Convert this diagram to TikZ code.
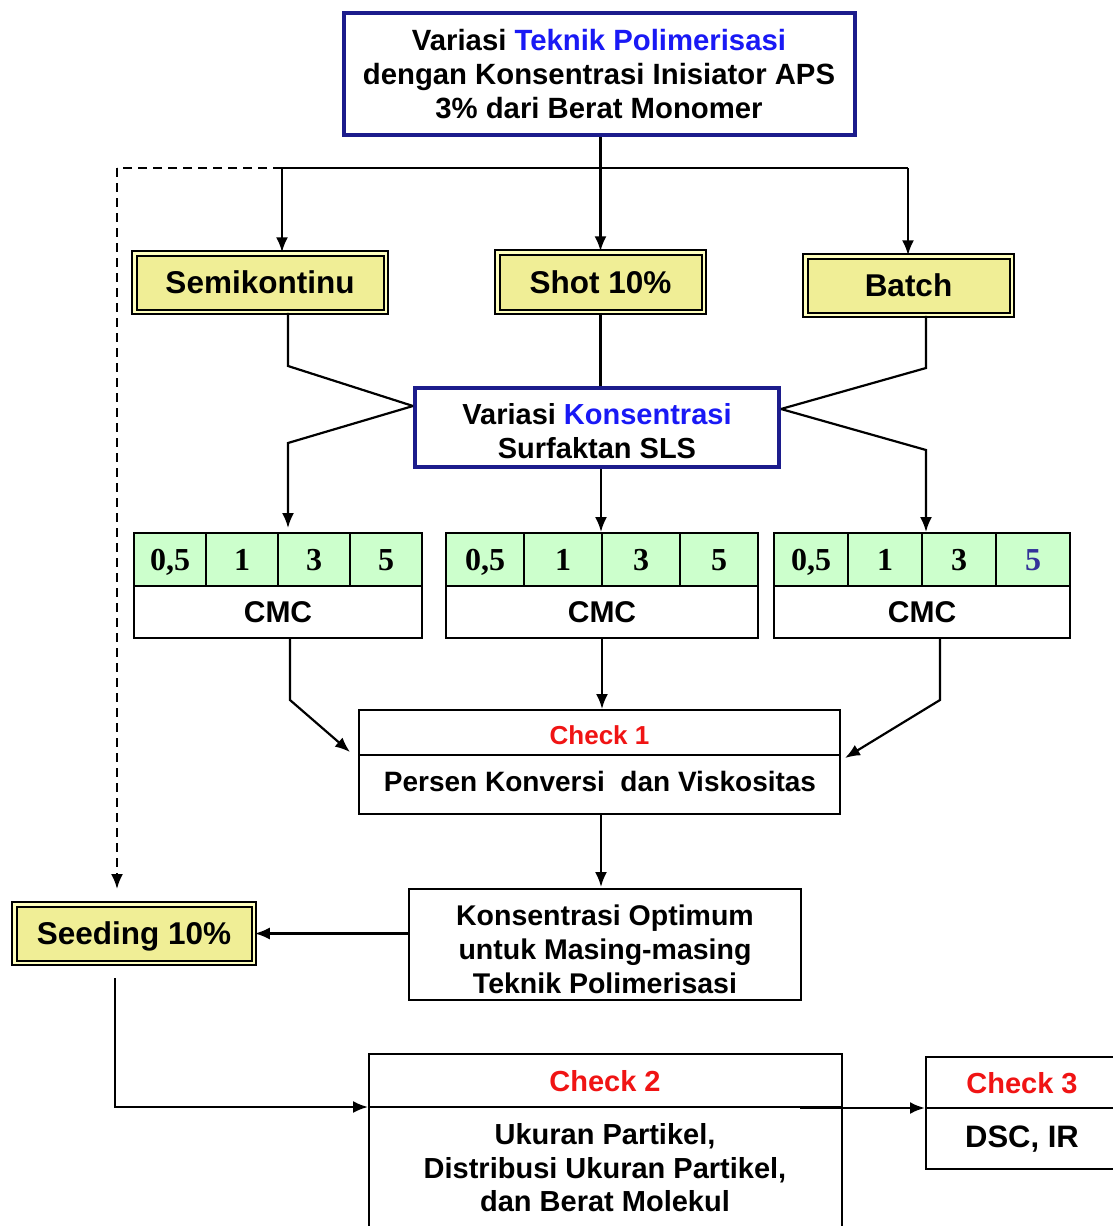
\documentclass[tikz,border=0pt]{standalone}
\usepackage{fontspec}
\setmainfont{Liberation Sans}
\newfontfamily\tnr{Liberation Serif}
\usetikzlibrary{arrows.meta}
\definecolor{navy}{RGB}{28,28,140}
\definecolor{tblue}{RGB}{25,25,245}
\definecolor{yfill}{RGB}{240,238,150}
\definecolor{ylight}{RGB}{255,255,190}
\definecolor{gfill}{RGB}{204,255,204}
\definecolor{rd}{RGB}{240,20,20}
\definecolor{five}{RGB}{51,51,153}
\begin{document}
\begin{tikzpicture}[x=1pt,y=-1pt,
 navybox/.style={draw=navy, line width=4pt, inner sep=0pt},
 ybox/.style={draw=black, line width=2pt, double=ylight, double distance=2.5pt, fill=yfill, inner sep=0pt, text height=22.5pt, text depth=0pt, font=\fontsize{31.5}{36}\selectfont\bfseries},
 wbox/.style={draw=black, line width=2pt, inner sep=0pt},
 cell/.style={draw=black, line width=2pt, fill=gfill, inner sep=0pt, minimum height=53pt, text height=21.5pt, text depth=0pt, font=\fontsize{32}{36}\selectfont\tnr\bfseries},
 cmc/.style={wbox, minimum height=52pt, font=\fontsize{30}{34}\selectfont\bfseries},
 txt/.style={align=center, font=\fontsize{29}{34}\selectfont\bfseries, inner sep=0pt},
 conn/.style={line width=2.2pt},
 arr/.style={conn, -{Latex[length=15pt,width=12pt]}},
 dashln/.style={dash pattern=on 9pt off 6pt},
]
\useasboundingbox (0,0) rectangle (1112,1226);
\fill[white] (0,0) rectangle (1112,1226);

% top box
\node[navybox, minimum width=511pt, minimum height=122pt] (top) at (599,74) {};
\node[txt, font=\fontsize{29.3}{34}\selectfont\bfseries] (toptxt) at (599,74) {Variasi \textcolor{tblue}{Teknik Polimerisasi}\\dengan Konsentrasi Inisiator APS\\3\% dari Berat Monomer};

% technique boxes
\node[ybox, minimum width=251.5pt, minimum height=58.5pt] (semi) at (260,282.5) {Semikontinu};
\node[ybox, minimum width=206.5pt, minimum height=59.5pt] (shot) at (600.5,282) {Shot 10\%};
\node[ybox, minimum width=206.5pt, minimum height=58.5pt] (batch) at (908.5,285.5) {Batch};

% konsentrasi box
\node[navybox, minimum width=364pt, minimum height=79pt] (konz) at (597,427.5) {};
\node[txt] (konztxt) at (597,431) {Variasi \textcolor{tblue}{Konsentrasi}\\Surfaktan SLS};

% tables
\foreach \v [count=\i] in {{0,5},1,3,5}
  \node[cell, minimum width=72pt] (ta\i) at ({134+72*(\i-0.5)},559.5) {\v};
\node[cmc, minimum width=288pt] (cmca) at (278,612) {CMC};
\foreach \v [count=\i] in {{0,5},1,3,5}
  \node[cell, minimum width=78pt] (tb\i) at ({446+78*(\i-0.5)},559.5) {\v};
\node[cmc, minimum width=312pt] (cmcb) at (602,612) {CMC};
\foreach \v [count=\i] in {{0,5},1,3}
  \node[cell, minimum width=74pt] (tc\i) at ({774+74*(\i-0.5)},559.5) {\v};
\node[cell, minimum width=74pt, text=five] (tc4) at (1033,559.5) {5};
\node[cmc, minimum width=296pt] (cmcc) at (922,612) {CMC};

% check 1
\node[wbox, minimum width=481pt, minimum height=104pt] (ch1) at (599.5,762) {};
\coordinate (d1) at (0,755);
\draw[line width=2.8pt] (ch1.west |- d1) -- (ch1.east |- d1);
\node[txt, font=\fontsize{26}{30}\selectfont\bfseries, text=rd] (ch1t) at (599.5,735) {Check 1};
\node[txt, font=\fontsize{28}{32}\selectfont\bfseries] (ch1b) at (600,781) {Persen Konversi\ \ dan Viskositas};

% optimum
\node[wbox, minimum width=392pt, minimum height=111pt] (opt) at (605,944.5) {};
\node[txt, font=\fontsize{28.5}{34}\selectfont\bfseries] (opttxt) at (605,949) {Konsentrasi Optimum\\untuk Masing-masing\\Teknik Polimerisasi};

% seeding
\node[ybox, minimum width=239.5pt, minimum height=58.5pt] (seed) at (134,933.5) {Seeding 10\%};

% check 2
\node[wbox, minimum width=473pt, minimum height=186pt] (c2box) at (605.5,1147) {};
\node[txt, text=rd] (c2t) at (605,1081) {Check 2};
\node[txt, font=\fontsize{29}{33.5}\selectfont\bfseries] (c2b) at (605,1168) {Ukuran Partikel,\\Distribusi Ukuran Partikel,\\dan Berat Molekul};

% check 3
\node[wbox, minimum width=199pt, minimum height=112pt] (c3box) at (1025.5,1113) {};
\node[txt, text=rd] (c3t) at (1022,1083) {Check 3};
\node[txt, font=\fontsize{31}{35}\selectfont\bfseries] (c3b) at (1022,1139) {DSC, IR};

% connectors top
\coordinate (jl) at (282,168);
\coordinate (jr) at (908,168);
\coordinate (dl) at (117,168);
\coordinate (dend) at (117,889);
\draw[conn] (jl) -- (jr);
\draw[arr] (top.south -| shot.north) -- (shot.north);
\draw[arr] (jl) -- (jl |- semi.north);
\draw[arr] (jr) -- (jr |- batch.north);
\draw[conn, dashln] (jl) -- (dl);
\draw[arr, dashln] (dl) -- (dend);

% to konsentrasi box
\coordinate (s1) at (288,366);
\coordinate (kl) at (413,406);
\coordinate (kr) at (781,409);
\coordinate (b1) at (926,368);
\draw[conn] (semi.south -| s1) -- (s1) -- (kl);
\draw[conn] (shot.south) -- (shot.south |- konz.north);
\draw[conn] (batch.south -| b1) -- (b1) -- (kr);

% from konsentrasi box to tables
\coordinate (s2) at (288,443);
\coordinate (s3) at (288,528);
\coordinate (m1) at (601,532);
\coordinate (r1) at (926,450);
\draw[arr] (kl) -- (s2) -- (s3);
\draw[arr] (konz.south -| m1) -- (m1);
\draw[arr] (kr) -- (r1) -- (r1 |- tc3.north);

% tables to check 1
\coordinate (a1) at (290,700);
\coordinate (a2) at (350,752);
\coordinate (e1) at (940,700);
\coordinate (e2) at (845,758);
\draw[arr] (cmca.south -| a1) -- (a1) -- (a2);
\draw[arr] (cmcb.south) -- (cmcb.south |- ch1.north);
\draw[arr] (cmcc.south -| e1) -- (e1) -- (e2);

% check1 -> optimum -> seeding
\coordinate (o0) at (601,887);
\draw[arr] (ch1.south -| o0) -- (o0);
\draw[arr] (opt.west |- seed.east) -- (seed.east);

% seeding -> check 2 -> check 3
\coordinate (sd1) at (115,978);
\coordinate (sd2) at (115,1107);
\draw[arr] (sd1) -- (sd2) -- (sd2 -| c2box.west);
\draw[line width=2.8pt] (sd2 -| c2box.west) -- (sd2 -| c2box.east);
\coordinate (o1) at (800,1108);
\draw[arr, line width=2.6pt] (o1) -- (o1 -| c3box.west);
\draw[line width=2.2pt] (o1 -| c3box.west) -- (o1 -| c3box.east);
\end{tikzpicture}
\end{document}
